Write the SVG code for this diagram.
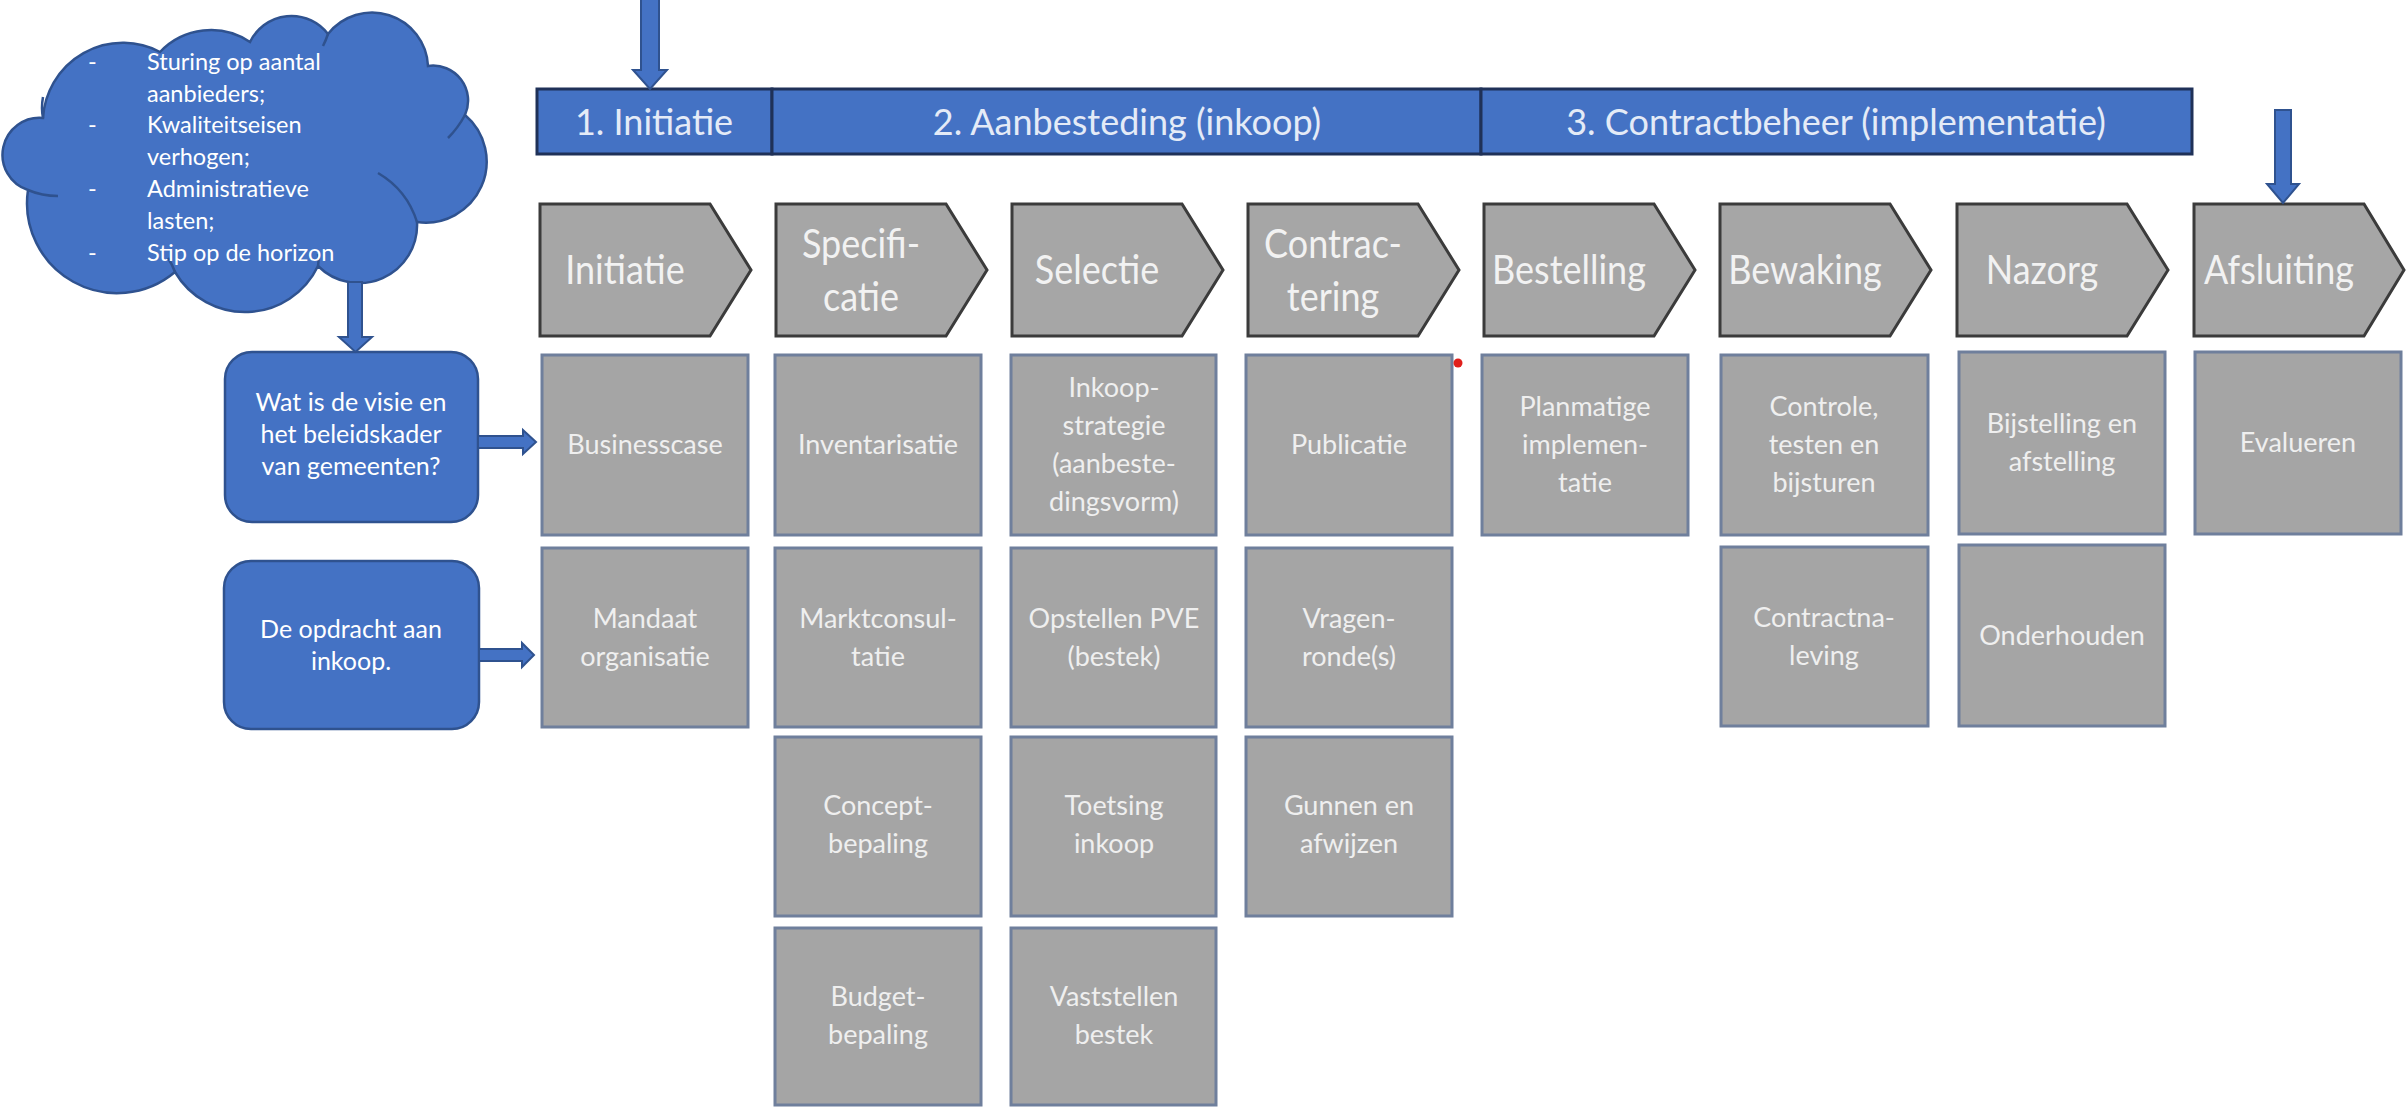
<svg xmlns="http://www.w3.org/2000/svg" width="2407" height="1109" viewBox="0 0 2407 1109">
<style>
  text { font-family: Lato, "Open Sans", "Liberation Sans", sans-serif; }
  .hdr { fill:#4472c4; stroke:#1f3158; stroke-width:3; }
  .hdrt { font-size:36px; fill:#e4ebf7; text-anchor:middle; }
  .chev { fill:#a6a6a6; stroke:#3b3b3b; stroke-width:3; stroke-linejoin:miter; }
  .chevt { font-size:36px; fill:#f2f2f2; text-anchor:middle; }
  .box { fill:#a5a5a5; stroke:#6f7f9c; stroke-width:3; }
  .boxt { font-size:27px; fill:#efefef; text-anchor:middle; }
  .blue { fill:#4472c4; stroke:#2f528f; stroke-width:2.5; }
  .bluet { font-size:25px; fill:#ffffff; text-anchor:middle; }
  .cloudt { font-size:23.5px; fill:#ffffff; }
  .inner { fill:none; stroke:#2f528f; stroke-width:2.5; }
  .arrow { fill:#4472c4; stroke:#2f528f; stroke-width:2; stroke-linejoin:miter; }
</style>
<rect width="2407" height="1109" fill="#ffffff"/>

<!-- Cloud -->
<g id="cloud">
  <path class="blue" d="M 43 118 A 80 80 0 0 1 160 52 A 70 70 0 0 1 250 42 A 46 46 0 0 1 328 34 A 56 56 0 0 1 428 66 A 35 35 0 0 1 465 115 A 61 61 0 0 1 417 222 A 58 58 0 0 1 318 266 A 81 81 0 0 1 175 272 A 90 90 0 0 1 28 190 A 37 37 0 0 1 43 118 Z"/>
  <path class="inner" d="M 43 118 Q 41 108 43 97"/>
  <path class="inner" d="M 28 190 Q 42 196 58 196"/>
  <path class="inner" d="M 328 34 Q 326 40 323 46"/>
  <path class="inner" d="M 465 115 Q 458 128 448 138"/>
  <path class="inner" d="M 417 222 Q 407 190 378 173"/>
  <path class="inner" d="M 318 266 Q 319 260 318 254"/>
  <path class="inner" d="M 175 272 Q 172 264 168 258"/>
  <text class="cloudt" x="88" y="70">-</text>
  <text class="cloudt" x="147" y="70">Sturing op aantal</text>
  <text class="cloudt" x="147" y="102">aanbieders;</text>
  <text class="cloudt" x="88" y="133">-</text>
  <text class="cloudt" x="147" y="133">Kwaliteitseisen</text>
  <text class="cloudt" x="147" y="165">verhogen;</text>
  <text class="cloudt" x="88" y="197">-</text>
  <text class="cloudt" x="147" y="197">Administratieve</text>
  <text class="cloudt" x="147" y="229">lasten;</text>
  <text class="cloudt" x="88" y="261">-</text>
  <text class="cloudt" x="147" y="261">Stip op de horizon</text>
</g>

<!-- Blue question boxes -->
<g id="visie">
  <rect class="blue" x="225" y="352" width="253" height="170" rx="27"/>
  <text class="bluet" x="351" y="411">Wat is de visie en</text>
  <text class="bluet" x="351" y="443">het beleidskader</text>
  <text class="bluet" x="351" y="475">van gemeenten?</text>
</g>
<g id="opdracht">
  <rect class="blue" x="224" y="561" width="255" height="168" rx="27"/>
  <text class="bluet" x="351" y="638">De opdracht aan</text>
  <text class="bluet" x="351" y="670">inkoop.</text>
</g>

<!-- Header bars -->
<g id="fase1">
  <rect class="hdr" x="537" y="89" width="235" height="65"/>
  <text class="hdrt" x="654" y="135">1. Initiatie</text>
</g>
<g id="fase2">
  <rect class="hdr" x="772" y="89" width="709" height="65"/>
  <text class="hdrt" x="1127" y="135">2. Aanbesteding (inkoop)</text>
</g>
<g id="fase3">
  <rect class="hdr" x="1481" y="89" width="711" height="65"/>
  <text class="hdrt" x="1836" y="135">3. Contractbeheer (implementatie)</text>
</g>

<!-- Chevrons -->
<g id="chev-initiatie">
  <path class="chev" d="M 540 204 H 710 L 751 270 L 710 336 H 540 Z"/>
  <text class="chevt" transform="translate(625,284) scale(1,1.12)">Initiatie</text>
</g>
<g id="chev-specificatie">
  <path class="chev" d="M 776 204 H 946 L 987 270 L 946 336 H 776 Z"/>
  <text class="chevt" transform="translate(861,258) scale(1,1.12)">Specifi-</text>
  <text class="chevt" transform="translate(861,311) scale(1,1.12)">catie</text>
</g>
<g id="chev-selectie">
  <path class="chev" d="M 1012 204 H 1182 L 1223 270 L 1182 336 H 1012 Z"/>
  <text class="chevt" transform="translate(1097,284) scale(1,1.12)">Selectie</text>
</g>
<g id="chev-contractering">
  <path class="chev" d="M 1248 204 H 1418 L 1459 270 L 1418 336 H 1248 Z"/>
  <text class="chevt" transform="translate(1333,258) scale(1,1.12)">Contrac-</text>
  <text class="chevt" transform="translate(1333,311) scale(1,1.12)">tering</text>
</g>
<g id="chev-bestelling">
  <path class="chev" d="M 1484 204 H 1654 L 1695 270 L 1654 336 H 1484 Z"/>
  <text class="chevt" transform="translate(1569,284) scale(1,1.12)">Bestelling</text>
</g>
<g id="chev-bewaking">
  <path class="chev" d="M 1720 204 H 1890 L 1931 270 L 1890 336 H 1720 Z"/>
  <text class="chevt" transform="translate(1805,284) scale(1,1.12)">Bewaking</text>
</g>
<g id="chev-nazorg">
  <path class="chev" d="M 1957 204 H 2127 L 2168 270 L 2127 336 H 1957 Z"/>
  <text class="chevt" transform="translate(2042,284) scale(1,1.12)">Nazorg</text>
</g>
<g id="chev-afsluiting">
  <path class="chev" d="M 2194 204 H 2364 L 2404 270 L 2364 336 H 2194 Z"/>
  <text class="chevt" transform="translate(2279,284) scale(1,1.12)">Afsluiting</text>
</g>

<!-- Column 1 -->
<g id="businesscase">
  <rect class="box" x="542" y="355" width="206" height="180"/>
  <text class="boxt" x="645" y="454">Businesscase</text>
</g>
<g id="mandaat">
  <rect class="box" x="542" y="548" width="206" height="179"/>
  <text class="boxt" x="645" y="627.5">Mandaat</text>
  <text class="boxt" x="645" y="665.5">organisatie</text>
</g>

<!-- Column 2 -->
<g id="inventarisatie">
  <rect class="box" x="775" y="355" width="206" height="180"/>
  <text class="boxt" x="878" y="454">Inventarisatie</text>
</g>
<g id="marktconsultatie">
  <rect class="box" x="775" y="548" width="206" height="179"/>
  <text class="boxt" x="878" y="627.5">Marktconsul-</text>
  <text class="boxt" x="878" y="665.5">tatie</text>
</g>
<g id="conceptbepaling">
  <rect class="box" x="775" y="737" width="206" height="179"/>
  <text class="boxt" x="878" y="815">Concept-</text>
  <text class="boxt" x="878" y="853">bepaling</text>
</g>
<g id="budgetbepaling">
  <rect class="box" x="775" y="928" width="206" height="177"/>
  <text class="boxt" x="878" y="1006">Budget-</text>
  <text class="boxt" x="878" y="1044">bepaling</text>
</g>

<!-- Column 3 -->
<g id="inkoopstrategie">
  <rect class="box" x="1011" y="355" width="205" height="180"/>
  <text class="boxt" x="1114" y="397">Inkoop-</text>
  <text class="boxt" x="1114" y="435">strategie</text>
  <text class="boxt" x="1114" y="473">(aanbeste-</text>
  <text class="boxt" x="1114" y="511">dingsvorm)</text>
</g>
<g id="opstellenpve">
  <rect class="box" x="1011" y="548" width="205" height="179"/>
  <text class="boxt" x="1114" y="627.5">Opstellen PVE</text>
  <text class="boxt" x="1114" y="665.5">(bestek)</text>
</g>
<g id="toetsing">
  <rect class="box" x="1011" y="737" width="205" height="179"/>
  <text class="boxt" x="1114" y="815">Toetsing</text>
  <text class="boxt" x="1114" y="853">inkoop</text>
</g>
<g id="vaststellen">
  <rect class="box" x="1011" y="928" width="205" height="177"/>
  <text class="boxt" x="1114" y="1006">Vaststellen</text>
  <text class="boxt" x="1114" y="1044">bestek</text>
</g>

<!-- Column 4 -->
<g id="publicatie">
  <rect class="box" x="1246" y="355" width="206" height="180"/>
  <text class="boxt" x="1349" y="454">Publicatie</text>
  <circle cx="1458" cy="363" r="4.5" fill="#e0201c"/>
</g>
<g id="vragenronde">
  <rect class="box" x="1246" y="548" width="206" height="179"/>
  <text class="boxt" x="1349" y="627.5">Vragen-</text>
  <text class="boxt" x="1349" y="665.5">ronde(s)</text>
</g>
<g id="gunnen">
  <rect class="box" x="1246" y="737" width="206" height="179"/>
  <text class="boxt" x="1349" y="815">Gunnen en</text>
  <text class="boxt" x="1349" y="853">afwijzen</text>
</g>

<!-- Column 5 -->
<g id="planmatige">
  <rect class="box" x="1482" y="355" width="206" height="180"/>
  <text class="boxt" x="1585" y="416">Planmatige</text>
  <text class="boxt" x="1585" y="454">implemen-</text>
  <text class="boxt" x="1585" y="492">tatie</text>
</g>

<!-- Column 6 -->
<g id="controle">
  <rect class="box" x="1721" y="355" width="207" height="180"/>
  <text class="boxt" x="1824" y="416">Controle,</text>
  <text class="boxt" x="1824" y="454">testen en</text>
  <text class="boxt" x="1824" y="492">bijsturen</text>
</g>
<g id="contractnaleving">
  <rect class="box" x="1721" y="547" width="207" height="179"/>
  <text class="boxt" x="1824" y="626.5">Contractna-</text>
  <text class="boxt" x="1824" y="664.5">leving</text>
</g>

<!-- Column 7 -->
<g id="bijstelling">
  <rect class="box" x="1959" y="352" width="206" height="182"/>
  <text class="boxt" x="2062" y="433">Bijstelling en</text>
  <text class="boxt" x="2062" y="471">afstelling</text>
</g>
<g id="onderhouden">
  <rect class="box" x="1959" y="545" width="206" height="181"/>
  <text class="boxt" x="2062" y="644.5">Onderhouden</text>
</g>

<!-- Column 8 -->
<g id="evalueren">
  <rect class="box" x="2195" y="352" width="206" height="182"/>
  <text class="boxt" x="2298" y="452">Evalueren</text>
</g>

<!-- Connectors (block arrows) -->
<g id="connectors">
  <polygon class="arrow" points="641,-2 659,-2 659,70 667,70 650,89 633,70 641,70"/>
  <polygon class="arrow" points="2275,110 2291,110 2291,184 2299,184 2283,203 2267,184 2275,184"/>
  <polygon class="arrow" points="348,282 362,282 362,337 372,337 355.5,352 339,337 348,337"/>
  <polygon class="arrow" points="478,436 523,436 523,430 536,442 523,454 523,448 478,448"/>
  <polygon class="arrow" points="479,649 522,649 522,643 534,655 522,667 522,661 479,661"/>
</g>
</svg>
